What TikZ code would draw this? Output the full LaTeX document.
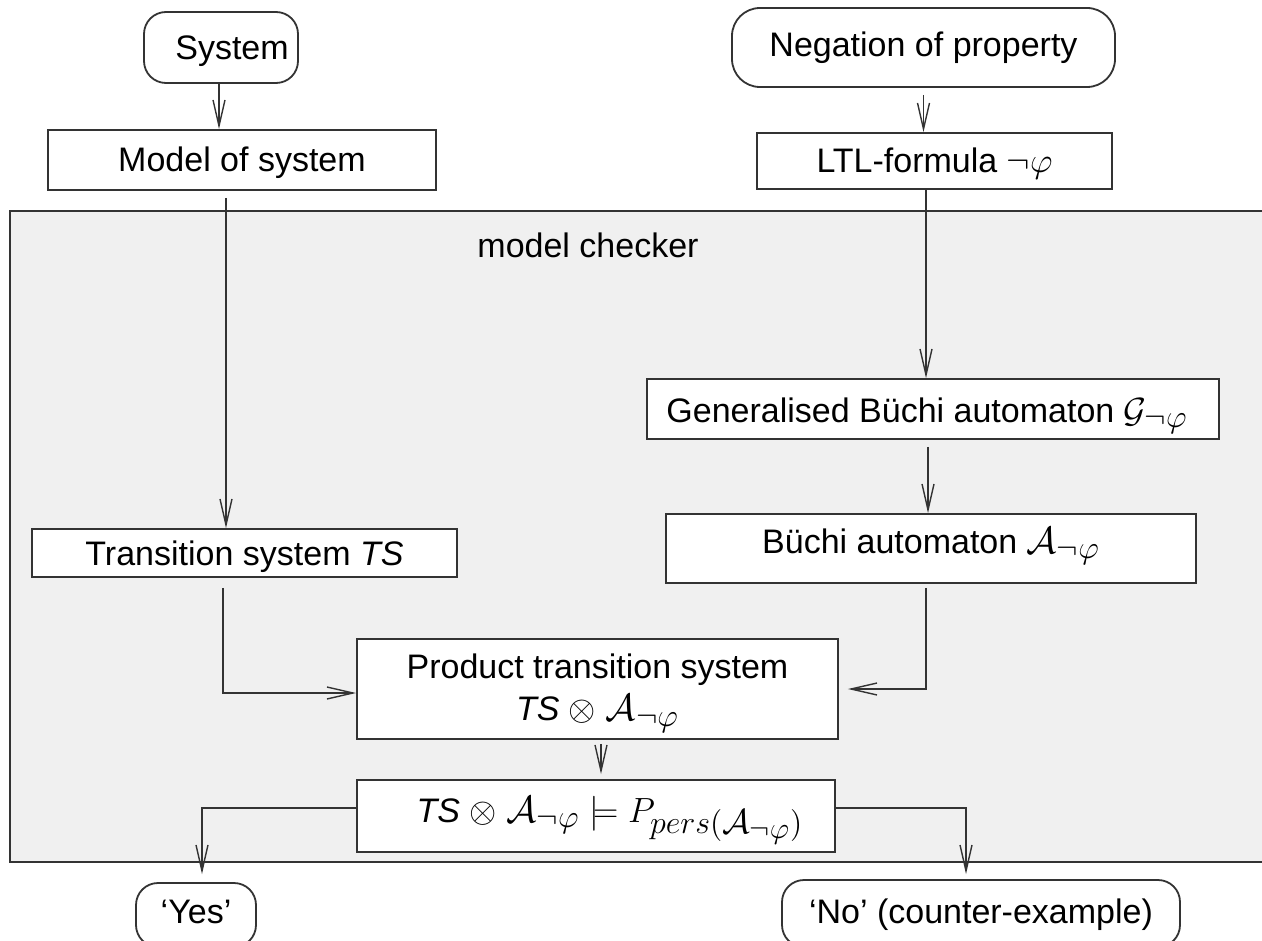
\documentclass[tikz,border=0pt]{standalone}
\usepackage{fix-cm}
\usepackage[no-math]{fontspec}
\setmainfont{Liberation Sans}
\DeclareMathSizes{17}{17.5}{16}{15}
\usetikzlibrary{arrows.meta}
\definecolor{mcgray}{HTML}{F0F0F0}
\definecolor{edge}{HTML}{333333}
\newcommand{\bigA}{\mathord{\scalebox{1.08}{$\mathcal{A}$}}}
\newcommand{\subA}{\mathord{\scalebox{1.08}{$\scriptstyle\mathcal{A}$}}}
\begin{document}
\begin{tikzpicture}[x=0.5pt,y=-0.5pt,
  font=\fontsize{17}{21}\selectfont,
  box/.style={draw=edge,line width=0.9pt,fill=white,inner sep=0pt,align=center,text height=15pt,text depth=3pt},
  rbox/.style={box,rounded corners=11pt},
  conn/.style={draw=edge,line width=0.8pt,-{Straight Barb[length=13pt,width=6pt,line width=0.7pt]}}]
\useasboundingbox (0,0) rectangle (1262,941);
% model checker frame
\node[draw=edge,line width=0.9pt,fill=mcgray,inner sep=0pt,minimum width=632.5pt,minimum height=325.5pt] (frame) at (642.5,536.5) {};
\node (mclabel) at (588,245) {model checker};
% nodes
\node[rbox,minimum width=77pt,minimum height=35.5pt] (sys) at (221,47.5) {\hspace*{11pt}System};
\node[box,minimum width=194pt,minimum height=30pt] (model) at (242,160) {Model of system};
\node[rbox,rounded corners=14pt,minimum width=191.5pt,minimum height=39.5pt,text height=12.5pt] (neg) at (923.5,47.5) {Negation of property};
\node[box,minimum width=177.5pt,minimum height=28pt] (ltl) at (934.5,161) {LTL-formula $\neg\varphi$};
\node[box,minimum width=286pt,minimum height=30pt,text height=16pt] (gen) at (933,409) {Generalised Büchi automaton $\mathcal{G}_{\neg\varphi}$\hspace*{6pt}};
\node[box,minimum width=265pt,minimum height=34.5pt,text height=10.5pt,text depth=6pt] (buchi) at (931,548.5) {Büchi automaton $\bigA_{\neg\varphi}$};
\node[box,minimum width=212.5pt,minimum height=24pt] (ts) at (244.5,553) {Transition system \textit{TS}};
\node[draw=edge,line width=0.9pt,fill=white,inner sep=0pt,align=center,minimum width=240.5pt,minimum height=50pt] (prod) at (597.5,689) {\rule{0pt}{16.5pt}Product transition system\\ \textit{TS} $\otimes\; \bigA_{\neg\varphi}$};
\node[box,minimum width=239pt,minimum height=36pt,text height=12pt,text depth=6pt] (check) at (596,816) {\hspace*{14pt}\textit{TS} $\otimes\; \bigA_{\neg\varphi}\models P_{pers(\subA_{\neg\varphi})}$};
\node[rbox,minimum width=60pt,minimum height=32pt,text height=11pt] (yes) at (196,915) {‘Yes’};
\node[rbox,minimum width=199pt,minimum height=33.5pt,text height=12.5pt] (no) at (981,913.5) {‘No’ (counter-example)};
% connectors
\draw[conn] ([xshift=-1pt]sys.south) -- ([xshift=-1pt]sys.south |- model.north);
\draw[conn,shorten <=3.5pt] (neg.south) -- (neg.south |- ltl.north);
\draw[conn,shorten <=3.5pt] ([xshift=-8pt]model.south) -- ([xshift=-8pt]model.south |- ts.north);
\draw[conn] ([xshift=-4.25pt]ltl.south) -- ([xshift=-4.25pt]ltl.south |- gen.north);
\draw[conn,shorten <=3.5pt] ([xshift=-2.5pt]gen.south) -- ([xshift=-2.5pt]gen.south |- buchi.north);
\draw[conn,shorten <=5pt] ([xshift=-10.75pt]ts.south) |- ([yshift=-2pt]prod.west);
\draw[conn,shorten <=2pt,shorten >=4.5pt] ([xshift=-2.5pt]buchi.south) |- (prod.east);
\draw[conn,shorten <=2pt,shorten >=2.5pt] ([xshift=1.75pt]prod.south) -- ([xshift=1.75pt]prod.south |- check.north);
\draw[conn,shorten >=4pt] ([yshift=4pt]check.west) -| ([xshift=3pt]yes.north);
\draw[conn,shorten >=2.5pt] ([yshift=4pt]check.east) -| ([xshift=-7.5pt]no.north);
\end{tikzpicture}
\end{document}
